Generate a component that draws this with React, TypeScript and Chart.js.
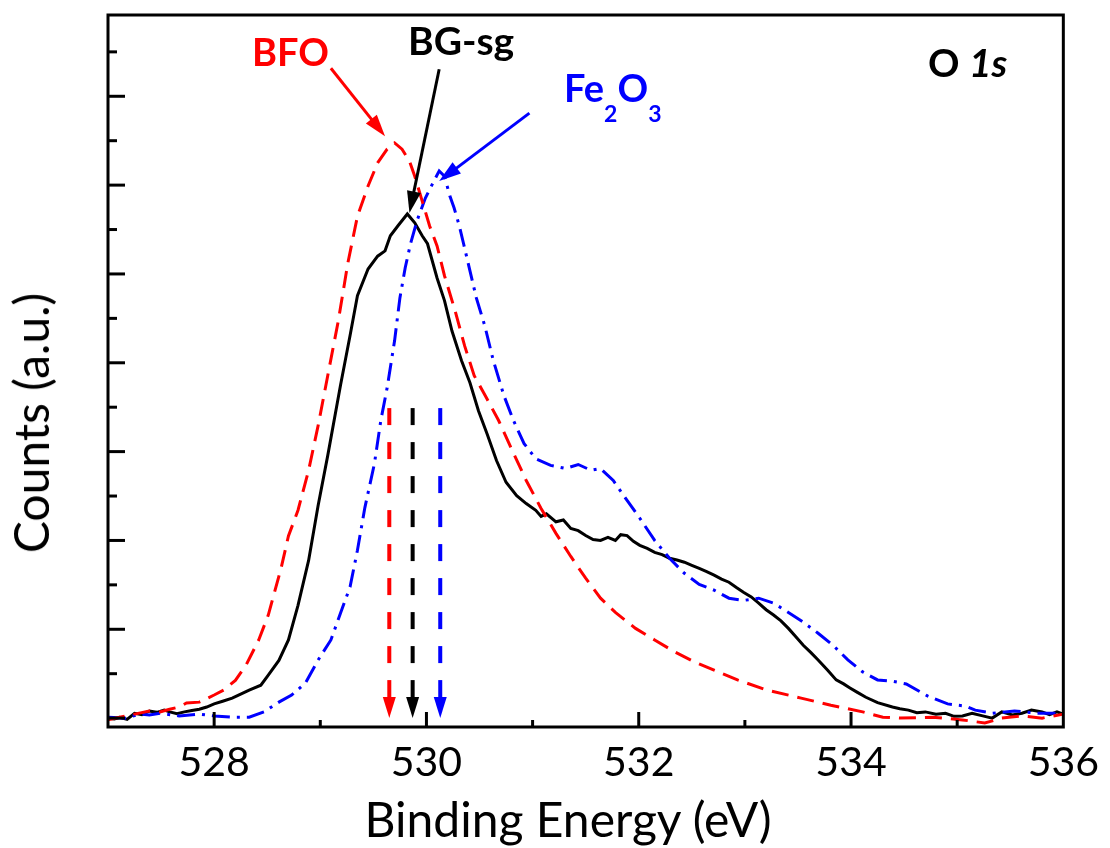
import React, { useEffect, useRef } from 'react';
import { Chart, registerables } from 'chart.js';

Chart.register(...registerables);

// ---- Data (binding energy in eV, counts in arbitrary units) ----
const bfoEnergy = [527.00, 527.11, 527.25, 527.39, 527.49, 527.58, 527.67, 527.74, 527.86, 528.00, 528.09, 528.20, 528.30, 528.42, 528.51, 528.63, 528.70, 528.79, 528.89, 528.98, 529.07, 529.17, 529.26, 529.35, 529.45, 529.54, 529.63, 529.70, 529.77, 529.84, 529.89, 529.96, 530.03, 530.10, 530.17, 530.27, 530.36, 530.45, 530.57, 530.68, 530.80, 530.94, 531.08, 531.22, 531.36, 531.50, 531.64, 531.78, 531.97, 532.15, 532.34, 532.53, 532.71, 532.93, 533.21, 533.53, 533.81, 534.11, 534.30, 534.46, 534.77, 535.05, 535.26, 535.42, 535.61, 535.80, 536.00];
const bfoCounts = [-0.04, 0.02, 0.09, 0.16, 0.14, 0.20, 0.25, 0.34, 0.36, 0.52, 0.63, 0.85, 1.19, 1.76, 2.32, 3.37, 4.10, 4.68, 5.58, 6.59, 7.71, 8.95, 10.25, 11.30, 11.98, 12.50, 12.81, 12.95, 12.81, 12.54, 12.20, 11.64, 11.08, 10.63, 9.96, 9.17, 8.38, 7.71, 7.19, 6.70, 6.07, 5.35, 4.72, 4.16, 3.64, 3.15, 2.70, 2.38, 2.02, 1.76, 1.49, 1.26, 1.08, 0.86, 0.63, 0.45, 0.29, 0.14, 0.02, 0.00, 0.02, -0.04, -0.11, 0.00, 0.05, 0.00, 0.09];

const bgEnergy = [527.00, 527.06, 527.11, 527.18, 527.25, 527.32, 527.39, 527.46, 527.53, 527.58, 527.65, 527.72, 527.79, 527.86, 527.93, 528.00, 528.08, 528.17, 528.25, 528.33, 528.44, 528.51, 528.61, 528.70, 528.79, 528.89, 528.98, 529.07, 529.19, 529.28, 529.35, 529.45, 529.54, 529.61, 529.66, 529.73, 529.82, 529.89, 529.96, 530.01, 530.10, 530.17, 530.24, 530.33, 530.41, 530.49, 530.57, 530.66, 530.75, 530.85, 530.94, 531.03, 531.08, 531.13, 531.22, 531.29, 531.36, 531.43, 531.50, 531.57, 531.64, 531.71, 531.78, 531.83, 531.89, 531.95, 532.01, 532.08, 532.15, 532.22, 532.29, 532.36, 532.43, 532.50, 532.57, 532.64, 532.71, 532.78, 532.85, 532.92, 532.99, 533.06, 533.13, 533.20, 533.27, 533.34, 533.41, 533.48, 533.55, 533.62, 533.69, 533.78, 533.86, 533.93, 533.99, 534.06, 534.14, 534.25, 534.39, 534.46, 534.54, 534.62, 534.70, 534.80, 534.89, 534.97, 535.05, 535.14, 535.24, 535.33, 535.42, 535.52, 535.61, 535.70, 535.80, 535.87, 535.94, 536.00];
const bgCounts = [0.00, -0.02, 0.02, -0.03, 0.11, 0.08, 0.16, 0.13, 0.18, 0.14, 0.10, 0.14, 0.17, 0.20, 0.25, 0.32, 0.38, 0.45, 0.54, 0.63, 0.74, 0.97, 1.30, 1.76, 2.54, 3.55, 4.79, 5.91, 7.49, 8.61, 9.51, 10.11, 10.40, 10.52, 10.86, 11.08, 11.35, 11.15, 10.86, 10.68, 9.91, 9.40, 8.72, 8.05, 7.55, 6.92, 6.41, 5.80, 5.31, 5.01, 4.83, 4.68, 4.54, 4.60, 4.42, 4.46, 4.27, 4.22, 4.11, 4.02, 4.00, 4.07, 4.00, 4.13, 4.11, 3.98, 3.89, 3.82, 3.73, 3.68, 3.60, 3.56, 3.51, 3.44, 3.37, 3.30, 3.22, 3.13, 3.06, 2.94, 2.83, 2.73, 2.59, 2.44, 2.32, 2.19, 2.02, 1.83, 1.64, 1.48, 1.31, 1.08, 0.86, 0.77, 0.68, 0.58, 0.47, 0.35, 0.25, 0.21, 0.18, 0.12, 0.14, 0.09, 0.11, 0.04, 0.05, 0.11, 0.05, 0.00, 0.14, 0.07, 0.11, 0.18, 0.14, 0.08, 0.14, 0.09];

const feEnergy = [527.00, 527.16, 527.30, 527.39, 527.49, 527.67, 527.86, 528.00, 528.19, 528.33, 528.47, 528.61, 528.73, 528.86, 528.98, 529.10, 529.19, 529.28, 529.35, 529.42, 529.51, 529.57, 529.63, 529.70, 529.75, 529.80, 529.85, 529.91, 529.99, 530.07, 530.12, 530.17, 530.22, 530.26, 530.31, 530.35, 530.41, 530.47, 530.55, 530.63, 530.73, 530.82, 530.92, 531.03, 531.17, 531.31, 531.43, 531.55, 531.64, 531.76, 531.87, 532.01, 532.15, 532.29, 532.43, 532.57, 532.71, 532.85, 532.99, 533.13, 533.27, 533.41, 533.55, 533.69, 533.83, 533.97, 534.11, 534.25, 534.39, 534.52, 534.72, 534.91, 535.08, 535.17, 535.33, 535.54, 535.75, 535.95, 536.00];
const feCounts = [0.02, 0.00, 0.09, 0.07, 0.11, 0.05, 0.09, 0.05, 0.02, 0.02, 0.14, 0.36, 0.52, 0.79, 1.31, 1.76, 2.36, 2.95, 3.78, 4.74, 5.73, 6.70, 7.44, 8.50, 9.46, 10.14, 10.68, 11.19, 11.71, 12.09, 12.32, 12.20, 11.76, 11.49, 11.08, 10.68, 10.07, 9.46, 8.83, 8.05, 7.26, 6.70, 6.18, 5.84, 5.69, 5.62, 5.71, 5.58, 5.62, 5.35, 4.97, 4.50, 4.00, 3.60, 3.26, 3.01, 2.88, 2.70, 2.65, 2.70, 2.59, 2.38, 2.16, 1.91, 1.64, 1.31, 1.04, 0.86, 0.83, 0.77, 0.50, 0.32, 0.27, 0.18, 0.11, 0.16, 0.11, 0.11, 0.14];

// Axis ranges
const xMin = 527;
const xMax = 536;
const yMin = -0.2;
const yMax = 15.83;

// Peak-position markers (vertical dashed arrows)
const markerEnergies = [529.65, 529.87, 530.13];
const markerColors = ['#ff0000', '#000000', '#0000ff'];
const markerTop = 6.98;
const markerTip = 0.0;

// Label arrows
const arrowColors = ['#ff0000', '#000000', '#0000ff'];
const arrowFrom = [[529.10, 14.63], [530.12, 14.61], [530.97, 13.62]];
const arrowTo = [[529.61, 13.10], [529.84, 11.37], [530.12, 12.09]];

const FONT = 'Lato, "Open Sans", sans-serif';

const framePlugin = {
  id: 'frameAndMarks',
  afterDatasetsDraw(chart: any) {
    const { ctx, chartArea: a, scales } = chart;
    const x = scales.x;
    const y = scales.y;
    ctx.save();

    // vertical dashed peak markers
    markerEnergies.forEach((e, i) => {
      const px = x.getPixelForValue(e);
      const yTop = y.getPixelForValue(markerTop);
      const yTip = y.getPixelForValue(markerTip);
      const headLen = 21;
      ctx.strokeStyle = markerColors[i];
      ctx.fillStyle = markerColors[i];
      ctx.lineWidth = 4;
      ctx.setLineDash([17, 17]);
      ctx.beginPath();
      ctx.moveTo(px, yTop);
      ctx.lineTo(px, yTip - headLen);
      ctx.stroke();
      ctx.setLineDash([]);
      ctx.beginPath();
      ctx.moveTo(px, yTip);
      ctx.lineTo(px - 6.5, yTip - headLen);
      ctx.lineTo(px + 6.5, yTip - headLen);
      ctx.closePath();
      ctx.fill();
    });

    // diagonal label arrows
    arrowColors.forEach((c, i) => {
      const x0 = x.getPixelForValue(arrowFrom[i][0]);
      const y0 = y.getPixelForValue(arrowFrom[i][1]);
      const x1 = x.getPixelForValue(arrowTo[i][0]);
      const y1 = y.getPixelForValue(arrowTo[i][1]);
      const dx = x1 - x0;
      const dy = y1 - y0;
      const len = Math.hypot(dx, dy);
      const ux = dx / len;
      const uy = dy / len;
      const head = 22;
      const half = 7;
      const bx = x1 - ux * head;
      const by = y1 - uy * head;
      ctx.strokeStyle = c;
      ctx.fillStyle = c;
      ctx.lineWidth = 3;
      ctx.setLineDash([]);
      ctx.beginPath();
      ctx.moveTo(x0, y0);
      ctx.lineTo(bx + ux * 2, by + uy * 2);
      ctx.stroke();
      ctx.beginPath();
      ctx.moveTo(x1, y1);
      ctx.lineTo(bx - uy * half, by + ux * half);
      ctx.lineTo(bx + uy * half, by - ux * half);
      ctx.closePath();
      ctx.fill();
    });

    // frame
    ctx.strokeStyle = '#000';
    ctx.lineWidth = 3;
    ctx.setLineDash([]);
    ctx.strokeRect(a.left, a.top, a.right - a.left, a.bottom - a.top);

    // inside ticks, x
    x.ticks.forEach((t: any) => {
      const v = t.value;
      if (v <= xMin || v >= xMax) return;
      const px = x.getPixelForValue(v);
      const l = v % 2 === 0 ? 15 : 7;
      ctx.beginPath();
      ctx.moveTo(px, a.bottom);
      ctx.lineTo(px, a.bottom - l);
      ctx.stroke();
    });
    // inside ticks, y
    y.ticks.forEach((t: any) => {
      const v = Math.round(t.value * 1000) / 1000;
      if (v < 0 || v >= yMax || !Number.isInteger(v)) return;
      const py = y.getPixelForValue(v);
      const l = v % 2 === 0 ? 17 : 9;
      ctx.beginPath();
      ctx.moveTo(a.left, py);
      ctx.lineTo(a.left + l, py);
      ctx.stroke();
    });
    ctx.restore();
  },
};

function toPoints(xs: number[], ys: number[]) {
  return xs.map((e, i) => ({ x: e, y: ys[i] }));
}

export default function App() {
  const canvasRef = useRef<HTMLCanvasElement | null>(null);

  useEffect(() => {
    document.body.style.margin = '0';
    const canvas = canvasRef.current;
    if (!canvas) return;
    const chart = new Chart(canvas, {
      type: 'line',
      data: {
        datasets: [
          {
            label: 'BFO',
            data: toPoints(bfoEnergy, bfoCounts),
            borderColor: '#ff0000',
            borderWidth: 3,
            borderDash: [17, 9],
            pointRadius: 0,
            tension: 0,
            fill: false,
          },
          {
            label: 'Fe2O3',
            data: toPoints(feEnergy, feCounts),
            borderColor: '#0000ff',
            borderWidth: 3,
            borderDash: [18, 7, 3, 7],
            pointRadius: 0,
            tension: 0,
            fill: false,
          },
          {
            label: 'BG-sg',
            data: toPoints(bgEnergy, bgCounts),
            borderColor: '#000000',
            borderWidth: 3,
            pointRadius: 0,
            tension: 0,
            fill: false,
          },
        ],
      },
      options: {
        animation: false,
        responsive: false,
        maintainAspectRatio: false,
        layout: { padding: { top: 15, right: 38, left: 0, bottom: 0 } },
        plugins: {
          legend: { display: false },
          tooltip: { enabled: false },
        },
        scales: {
          x: {
            type: 'linear',
            min: xMin,
            max: xMax,
            afterFit: (s: any) => {
              s.height = 121;
            },
            grid: { display: false, drawTicks: false },
            border: { display: false },
            ticks: {
              stepSize: 1,
              autoSkip: false,
              maxRotation: 0,
              padding: 11,
              color: '#000',
              font: { family: FONT, size: 41 },
              callback: (v: any) => (Number(v) % 2 === 0 ? String(v) : ''),
            },
          },
          y: {
            type: 'linear',
            min: yMin,
            max: yMax,
            afterFit: (s: any) => {
              s.width = 108;
            },
            afterBuildTicks: (s: any) => {
              const t = [];
              for (let v = 0; v <= 15; v++) t.push({ value: v });
              s.ticks = t;
            },
            grid: { display: false, drawTicks: false },
            border: { display: false },
            ticks: { display: false },
          },
        },
      },
      plugins: [framePlugin],
    });
    const fonts: any = (document as any).fonts;
    if (fonts && fonts.load) {
      Promise.all([fonts.load('40px Lato'), fonts.load('bold 37px Lato')]).then(() => chart.update());
    }
    return () => chart.destroy();
  }, []);

  const base: React.CSSProperties = {
    position: 'absolute',
    fontFamily: FONT,
    lineHeight: 1,
    whiteSpace: 'nowrap',
    margin: 0,
  };

  return (
    <div style={{ position: 'absolute', left: 0, top: 0, width: 1110, height: 848, background: '#fff' }}>
      <canvas ref={canvasRef} width={1110} height={848} style={{ width: 1110, height: 848, display: 'block' }} />
      <div style={{ ...base, left: 252, top: 32, fontSize: 38, fontWeight: 700, color: '#ff0000' }}>BFO</div>
      <div style={{ ...base, left: 408, top: 21, fontSize: 39, fontWeight: 700, color: '#000' }}>BG-sg</div>
      <div style={{ ...base, left: 564, top: 68, fontSize: 38, fontWeight: 700, color: '#0000ff' }}>
        Fe<span style={{ fontSize: 23, position: 'relative', top: 20 }}>2</span>O
        <span style={{ fontSize: 23, position: 'relative', top: 20 }}>3</span>
      </div>
      <div style={{ ...base, left: 928, top: 43, fontSize: 39, fontWeight: 700, color: '#000' }}>
        O <span style={{ fontStyle: 'italic' }}>1s</span>
      </div>
      <div style={{ ...base, left: 568, top: 795, fontSize: 48, color: '#000', transform: 'translateX(-50%)' }}>
        Binding Energy (eV)
      </div>
      <div
        style={{
          ...base,
          left: 31,
          top: 423,
          fontSize: 48,
          color: '#000',
          transform: 'translate(-50%, -50%) rotate(-90deg)',
        }}
      >
        Counts (a.u.)
      </div>
    </div>
  );
}
